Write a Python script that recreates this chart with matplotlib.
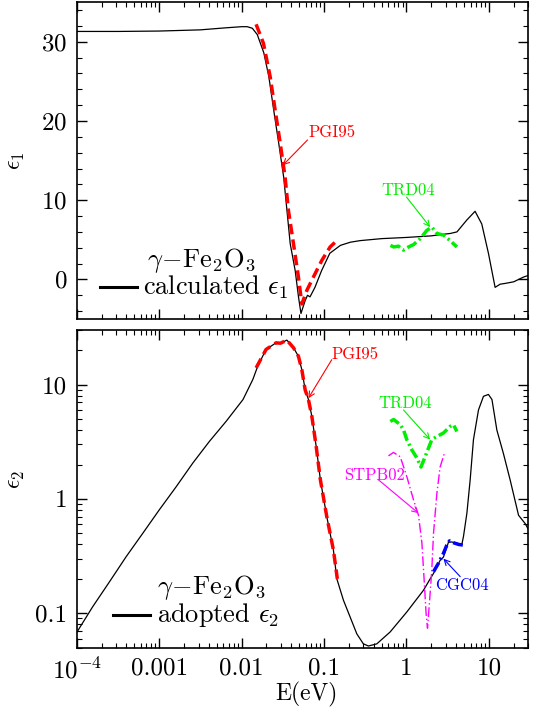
import matplotlib
matplotlib.use("Agg")
import matplotlib.pyplot as plt
from matplotlib import ticker as mticker

plt.rcParams["font.family"] = "cmr10"
plt.rcParams["mathtext.fontset"] = "cm"
plt.rcParams["axes.unicode_minus"] = False
plt.rcParams["axes.formatter.use_mathtext"] = True

# ---- top panel: epsilon_1 ----
calc_e1_E = [1e-4, 3.16e-4, 1e-3, 3.16e-3, 6.3e-3, 0.010, 0.0117, 0.0135, 0.0155,
             0.0186, 0.0214, 0.0245, 0.0282, 0.0324, 0.0355, 0.0389, 0.0447, 0.049,
             0.0525, 0.0589, 0.063, 0.0676, 0.0776, 0.0933, 0.1175, 0.158, 0.209,
             0.275, 0.5, 1.0, 2.0, 2.8, 3.4, 4.1, 5.4, 6.8, 8.2, 9.9, 11.9, 13.7,
             15.8, 20.0, 26.3, 30.0]
calc_e1 = [31.3, 31.3, 31.35, 31.5, 31.75, 31.9, 31.9, 31.7, 30.9,
           28.6, 25.6, 21.4, 17.2, 12.9, 8.7, 4.5, 1.1, -2.2,
           -4.3, -2.7, -2.0, -2.2, -1.0, 1.1, 3.3, 4.3, 4.7,
           4.9, 5.15, 5.3, 5.5, 5.7, 5.8, 6.0, 7.5, 8.6, 7.0, 3.25, -1.0, -0.6,
           -0.5, -0.3, 0.3, 0.5]

pgi_e1_E = [0.0150, 0.0184, 0.0222, 0.0255, 0.0294, 0.0337, 0.037, 0.0426, 0.0489,
            0.0538, 0.0618, 0.0743, 0.094, 0.1186, 0.143]
pgi_e1 = [32.2, 29.8, 25.6, 21.4, 17.2, 12.9, 8.7, 4.5, 0.3,
          -3.1, -1.4, 0.3, 2.4, 4.1, 4.9]

trd_e1_E = [0.64, 0.70, 0.80, 0.92, 1.06, 1.22, 1.47, 1.77, 2.03, 2.34, 2.81, 3.39, 4.09]
trd_e1 = [4.3, 4.1, 4.2, 3.7, 4.1, 4.4, 5.15, 6.2, 6.6, 5.8, 5.6, 4.9, 4.1]

# ---- bottom panel: epsilon_2 ----
calc_e2_E = [1.0e-4, 1.56e-4, 2.49e-4, 3.97e-4, 6.32e-4, 1.0e-3, 1.61e-3, 2.56e-3,
             4.06e-3, 6.49e-3, 0.0104, 0.0137, 0.0157, 0.0198, 0.0262, 0.0296, 0.0354,
             0.0426, 0.0489, 0.0538, 0.059, 0.0647, 0.0711, 0.0802, 0.0903, 0.108,
             0.130, 0.143, 0.172, 0.207, 0.25, 0.30, 0.346, 0.437, 0.634, 1.01, 1.61,
             1.94, 2.13, 2.56, 2.81, 3.24, 3.56, 4.09, 4.70, 4.92, 5.41, 5.93, 6.50,
             7.48, 8.60, 9.88, 10.9, 12.5, 15.0, 18.1, 22.9, 27.5, 30.2]
calc_e2 = [0.068, 0.114, 0.188, 0.312, 0.50, 0.80, 1.28, 2.06,
           3.18, 4.77, 7.4, 11.1, 14.5, 20.3, 23.2, 23.0, 24.5,
           21.0, 17.7, 13.5, 9.0, 7.4, 5.3, 2.9, 1.47, 0.70,
           0.357, 0.20, 0.13, 0.093, 0.066, 0.054, 0.0517, 0.054, 0.0686, 0.1026, 0.159,
           0.20, 0.223, 0.29, 0.31, 0.42, 0.42, 0.41, 0.40, 0.47, 0.75, 1.47, 3.3,
           6.0, 7.9, 8.2, 7.4, 4.0, 2.5, 1.47, 0.72, 0.61, 0.54]

pgi_e2_E = [0.0150, 0.0198, 0.0262, 0.0296, 0.0354, 0.0426, 0.0489, 0.0538, 0.059,
            0.0647, 0.0711, 0.0802, 0.0903, 0.108, 0.130, 0.145]
pgi_e2 = [14.0, 20.3, 23.2, 23.0, 24.5, 21.0, 17.7, 13.5, 9.0,
          7.4, 5.3, 2.9, 1.47, 0.70, 0.357, 0.20]

trd_e2_E = [0.637, 0.70, 0.84, 0.92, 1.01, 1.16, 1.34, 1.50, 1.69, 1.85, 2.03,
            2.34, 2.81, 3.39, 3.72, 4.09]
trd_e2 = [4.76, 4.95, 4.46, 4.03, 3.30, 2.69, 2.28, 1.90, 2.35, 2.78, 3.30,
          3.52, 3.77, 4.31, 4.46, 3.89]

stpb_E = [0.605, 0.695, 0.84, 1.01, 1.22, 1.40, 1.54, 1.64, 1.73, 1.80, 1.90,
          2.03, 2.13, 2.34, 2.56, 2.89]
stpb_e2 = [2.38, 2.55, 2.34, 1.57, 0.977, 0.72, 0.41, 0.195, 0.10, 0.074, 0.123,
           0.24, 0.50, 1.12, 1.9, 2.51]

cgc_E = [2.13, 2.44, 2.81, 3.09, 3.33, 3.72, 4.28, 4.83]
cgc_e2 = [0.231, 0.273, 0.334, 0.395, 0.43, 0.414, 0.40, 0.395]

x_ticks = [1e-4, 1e-3, 1e-2, 1e-1, 1, 10]
x_ticklabels = [r"$10^{-4}$", "0.001", "0.01", "0.1", "1", "10"]
y1_ticks = [0, 10, 20, 30]
y2_ticks = [0.1, 1, 10]
y2_ticklabels = ["0.1", "1", "10"]

RED = "#ff0000"
GREEN = "#00ee00"
MAGENTA = "#ff00ff"
BLUE = "#0000ff"


def style_axes(ax):
    ax.set_xscale("log")
    ax.set_xlim(1e-4, 30)
    ax.xaxis.set_major_locator(mticker.FixedLocator(x_ticks))
    ax.xaxis.set_minor_locator(mticker.LogLocator(base=10, subs=range(2, 10), numticks=20))
    ax.xaxis.set_minor_formatter(mticker.NullFormatter())
    ax.tick_params(which="both", direction="in", top=True, right=True,
                   labelsize=18, pad=7)
    ax.tick_params(which="major", length=7, width=1)
    ax.tick_params(which="minor", length=3.5, width=0.8)
    for s in ax.spines.values():
        s.set_linewidth(1.2)


def arrow(ax, tip, start, color):
    ax.annotate("", xy=tip, xytext=start,
                arrowprops=dict(arrowstyle="->", color=color, lw=0.8,
                                shrinkA=0, shrinkB=0, mutation_scale=10))


fig = plt.figure(figsize=(5.33, 7.09), dpi=100)
ax1 = fig.add_axes([0.144, 0.550, 0.847, 0.447])
ax2 = fig.add_axes([0.144, 0.0865, 0.847, 0.448])

# top panel
style_axes(ax1)
ax1.plot(calc_e1_E, calc_e1, color="black", lw=0.9)
ax1.plot(pgi_e1_E, pgi_e1, color=RED, lw=2.5, dashes=(3, 1.5))
ax1.plot(trd_e1_E, trd_e1, color=GREEN, lw=2.5, dashes=(3, 1, 0.6, 1))
ax1.set_ylim(-5, 35)
ax1.yaxis.set_major_locator(mticker.FixedLocator(y1_ticks))
ax1.yaxis.set_minor_locator(mticker.MultipleLocator(2))
ax1.tick_params(labelbottom=False)
ax1.set_ylabel(r"$\epsilon_1$", fontsize=17)
ax1.yaxis.set_label_coords(-0.11, 0.5)

ax1.text(0.064, 18.6, "PGI95", color=RED, fontsize=12, ha="left", va="center")
arrow(ax1, (0.0316, 14.4), (0.063, 17.6), RED)
ax1.text(0.50, 11.3, "TRD04", color=GREEN, fontsize=12, ha="left", va="center")
arrow(ax1, (1.94, 6.6), (1.0, 10.4), GREEN)

ax1.text(0.155, 0.186, r"$\gamma\!-\!\mathrm{Fe_2O_3}$", transform=ax1.transAxes,
         fontsize=19, ha="left", va="center")
ax1.plot([0.052, 0.134], [0.101, 0.101], color="black", lw=2.2, transform=ax1.transAxes)
ax1.text(0.147, 0.101, r"calculated $\epsilon_1$", transform=ax1.transAxes,
         fontsize=19, ha="left", va="center")

# bottom panel
style_axes(ax2)
ax2.set_yscale("log")
ax2.plot(calc_e2_E, calc_e2, color="black", lw=0.9)
ax2.plot(pgi_e2_E, pgi_e2, color=RED, lw=2.5, dashes=(3, 1.5))
ax2.plot(trd_e2_E, trd_e2, color=GREEN, lw=2.5, dashes=(3, 1, 0.6, 1))
ax2.plot(stpb_E, stpb_e2, color=MAGENTA, lw=1.0, dashes=(7, 2, 1, 2))
ax2.plot(cgc_E, cgc_e2, color=BLUE, lw=2.5, dashes=(3, 1, 0.6, 1))
ax2.set_ylim(0.05, 30)
ax2.yaxis.set_major_locator(mticker.FixedLocator(y2_ticks))
ax2.yaxis.set_major_formatter(mticker.FixedFormatter(y2_ticklabels))
ax2.yaxis.set_minor_locator(mticker.LogLocator(base=10, subs=range(2, 10), numticks=20))
ax2.yaxis.set_minor_formatter(mticker.NullFormatter())
ax2.xaxis.set_major_formatter(mticker.FixedFormatter(x_ticklabels))
ax2.set_ylabel(r"$\epsilon_2$", fontsize=17)
ax2.yaxis.set_label_coords(-0.11, 0.53)
ax2.set_xlabel("E(eV)", fontsize=17)
ax2.xaxis.set_label_coords(0.51, -0.108)

ax2.text(0.124, 18.3, "PGI95", color=RED, fontsize=12, ha="left", va="center")
arrow(ax2, (0.0646, 7.6), (0.124, 16.5), RED)
ax2.text(0.457, 6.9, "TRD04", color=GREEN, fontsize=12, ha="left", va="center")
arrow(ax2, (1.94, 3.3), (0.92, 6.0), GREEN)
ax2.text(0.175, 1.62, "STPB02", color=MAGENTA, fontsize=12, ha="left", va="center")
arrow(ax2, (1.40, 0.75), (0.457, 1.47), MAGENTA)
ax2.text(2.23, 0.176, "CGC04", color=BLUE, fontsize=12, ha="left", va="center")
arrow(ax2, (2.81, 0.30), (4.49, 0.209), BLUE)

ax2.text(0.178, 0.191, r"$\gamma\!-\!\mathrm{Fe_2O_3}$", transform=ax2.transAxes,
         fontsize=19, ha="left", va="center")
ax2.plot([0.081, 0.163], [0.103, 0.103], color="black", lw=2.2, transform=ax2.transAxes)
ax2.text(0.178, 0.103, r"adopted $\epsilon_2$", transform=ax2.transAxes,
         fontsize=19, ha="left", va="center")

fig.savefig("out.png", dpi=100)
plt.close(fig)
